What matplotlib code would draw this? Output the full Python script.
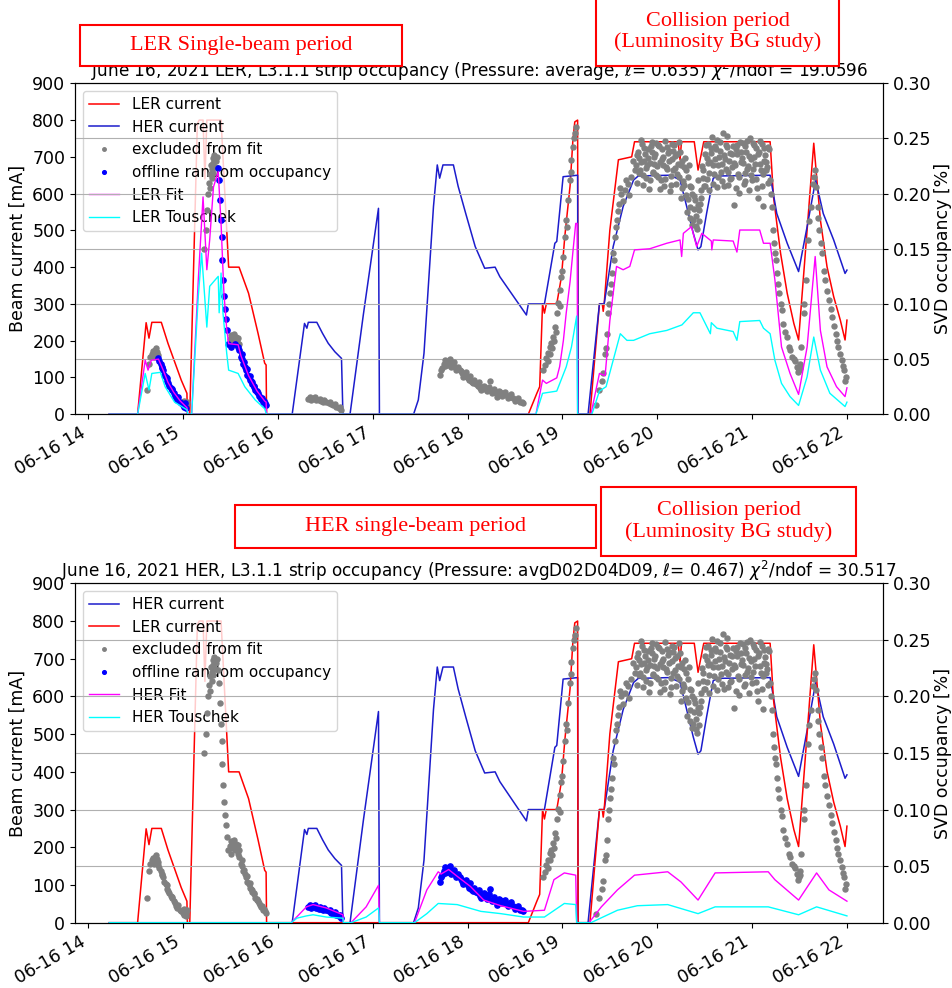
import matplotlib
matplotlib.use("Agg")
import matplotlib.pyplot as plt
import matplotlib.dates as mdates
from matplotlib.patches import Rectangle
import numpy as np
import pandas as pd

plt.rcParams['font.size'] = 12.5

# ---- beam currents [mA], time in hours of 2021-06-16
ler_t = [14.22, 14.52, 14.61, 14.64, 14.67, 14.77, 14.84, 14.91, 14.98, 15.04, 15.045, 15.07, 15.15, 15.17,
         15.21, 15.23, 15.25, 15.40, 15.46, 15.48, 15.59, 15.69, 15.79, 15.86, 15.875, 15.88, 18.64, 18.73,
         18.76, 18.79, 18.81, 18.83, 18.94, 18.99, 19.025, 19.08, 19.11, 19.13, 19.16, 19.165, 19.29, 19.39,
         19.42, 19.43, 19.44, 19.50, 19.59, 19.73, 19.76, 20.22, 20.24, 20.255, 20.39, 20.43, 20.49, 21.19,
         21.225, 21.30, 21.37, 21.44, 21.49, 21.58, 21.65, 21.72, 21.79, 21.86, 21.93, 21.98, 22.0]
ler_ma = [0, 0, 249, 207, 250, 250, 193, 143, 93, 57, 0, 0, 790, 800,
          800, 640, 800, 800, 500, 400, 400, 329, 220, 139, 134, 0, 0, 57,
          75, 300, 275, 300, 300, 375, 484, 620, 745, 795, 800, 0, 0, 300,
          300, 280, 300, 501, 692, 700, 741, 741, 692, 741, 741, 664, 741, 741,
          592, 438, 329, 247, 202, 501, 737, 528, 401, 320, 256, 202, 256]

her_t = [14.22, 16.15, 16.28, 16.305, 16.32, 16.41, 16.47, 16.53, 16.60, 16.67, 16.685, 16.76, 16.90, 17.06,
         17.07, 17.43, 17.48, 17.54, 17.59, 17.64, 17.68, 17.705, 17.74, 17.85, 17.90, 17.98, 18.08, 18.18,
         18.29, 18.34, 18.62, 18.64, 18.81, 18.92, 18.94, 19.007, 19.16, 19.165, 19.27, 19.39, 19.44, 19.535,
         19.64, 19.75, 19.80, 20.13, 20.22, 20.24, 20.31, 20.38, 20.43, 20.46, 20.52, 20.59, 20.65, 21.19,
         21.26, 21.37, 21.49, 21.58, 21.67, 21.75, 21.86, 21.98, 22.0]
her_ma = [0, 0, 247, 234, 250, 250, 220, 193, 170, 152, 0, 0, 270, 560,
          0, 0, 39, 166, 365, 565, 678, 642, 678, 678, 620, 546, 456, 397,
          400, 374, 270, 300, 300, 465, 470, 646, 650, 0, 0, 300, 300, 456,
          565, 637, 648, 650, 640, 637, 565, 492, 447, 456, 546, 642, 648, 650,
          546, 465, 388, 510, 637, 546, 474, 383, 392]

# ---- fits [%]
lerfit_t = [14.22, 14.52, 14.60, 14.63, 14.665, 14.74, 14.79, 14.84, 14.90, 14.97, 15.04, 15.05, 15.09, 15.16,
            15.21, 15.25, 15.28, 15.32, 15.37, 15.40, 15.43, 15.46, 15.48, 15.58, 15.61, 15.69, 15.78, 15.86,
            15.875, 15.88, 18.72, 18.79, 18.83, 18.94, 18.97, 19.01, 19.04, 19.08, 19.11, 19.14, 19.155, 19.16,
            19.30, 19.39, 19.45, 19.50, 19.57, 19.64, 19.71, 19.76, 19.92, 20.10, 20.24, 20.257, 20.275, 20.36,
            20.415, 20.47, 20.57, 20.575, 20.59, 20.80, 20.84, 20.87, 21.08, 21.12, 21.19, 21.24, 21.31, 21.40,
            21.49, 21.58, 21.665, 21.72, 21.79, 21.89, 21.98, 22.0]
lerfit_occ = [0, 0, .049, .040, .049, .050, .040, .029, .020, .012, .006, 0, 0, .122,
              .197, .131, .158, .206, .220, .173, .110, .077, .064, .063, .053, .035, .021, .012,
              .011, 0, 0, .031, .028, .033, .043, .067, .092, .120, .147, .173, .173, 0,
              0, .037, .035, .085, .134, .131, .134, .149, .150, .155, .158, .143, .164, .170,
              .152, .164, .157, .149, .158, .157, .147, .167, .167, .155, .155, .122, .061, .037,
              .018, .061, .143, .076, .043, .025, .016, .024]

lertou_t = [14.22, 14.52, 14.60, 14.64, 14.67, 14.76, 14.81, 14.91, 15.04, 15.05, 15.09, 15.16, 15.195, 15.25,
            15.28, 15.34, 15.37, 15.38, 15.40, 15.42, 15.46, 15.48, 15.58, 15.65, 15.76, 15.86, 15.88, 18.72,
            18.79, 18.94, 19.04, 19.095, 19.15, 19.16, 19.31, 19.39, 19.46, 19.535, 19.61, 19.68, 19.75, 19.92,
            20.10, 20.26, 20.38, 20.45, 20.56, 20.57, 20.63, 20.80, 20.84, 20.87, 21.08, 21.12, 21.19, 21.24,
            21.31, 21.40, 21.49, 21.58, 21.65, 21.72, 21.82, 21.98, 22.0]
lertou_occ = [0, 0, .037, .022, .037, .038, .025, .011, .004, 0, 0, .107, .146, .079,
              .116, .122, .125, .092, .128, .092, .055, .040, .037, .025, .013, .005, 0, 0,
              .019, .021, .043, .061, .089, 0, 0, .021, .025, .049, .073, .067, .067, .073,
              .076, .081, .092, .092, .073, .083, .078, .075, .067, .084, .085, .078, .073, .049,
              .028, .016, .008, .034, .070, .040, .019, .007, .011]

herfit_t = [14.22, 16.14, 16.30, 16.37, 16.51, 16.685, 16.69, 16.77, 16.93, 17.06, 17.07, 17.44, 17.57, 17.69,
            17.72, 17.80, 17.89, 18.03, 18.17, 18.35, 18.59, 18.81, 18.91, 19.02, 19.14, 19.15, 19.28, 19.41,
            19.58, 19.76, 20.11, 20.25, 20.43, 20.61, 21.17, 21.24, 21.49, 21.68, 21.81, 22.0]
herfit_occ = [0, 0, .014, .016, .013, .007, 0, 0, .014, .033, 0, 0, .029, .045,
              .043, .047, .041, .032, .020, .015, .010, .011, .038, .044, .042, 0, 0, .014,
              .029, .042, .045, .036, .020, .044, .045, .038, .020, .044, .029, .019]

hertou_t = [14.22, 16.14, 16.20, 16.30, 16.37, 16.51, 16.685, 16.69, 16.77, 16.93, 17.06, 17.07, 17.44, 17.57,
            17.69, 17.89, 18.14, 18.35, 18.59, 18.81, 19.02, 19.14, 19.15, 19.30, 19.58, 19.79, 20.11, 20.43,
            20.61, 21.17, 21.49, 21.68, 22.0]
hertou_occ = [0, 0, .004, .006, .007, .005, .004, 0, 0, .005, .013, 0, 0, .008,
              .017, .016, .010, .008, .005, .005, .017, .016, 0, 0, .011, .015, .016, .008,
              .014, .014, .007, .014, .006]

# ---- measured occupancy [%]
# LER single-beam decays (fitted in the LER plot)
ler_dec_t = [14.74, 14.765, 14.78, 14.79, 14.815, 14.83, 14.845, 14.87, 14.88, 14.90, 14.93, 14.95, 14.965,
             15.0, 15.02, 15.035, 15.365, 15.38, 15.39, 15.395, 15.405, 15.415, 15.425, 15.435, 15.44, 15.45,
             15.46, 15.475, 15.51, 15.545, 15.58, 15.61, 15.625, 15.635, 15.65, 15.66, 15.675, 15.69, 15.705,
             15.72, 15.73, 15.745, 15.76, 15.775, 15.79, 15.81, 15.825, 15.845, 15.86, 15.87,
             14.75, 14.775, 14.80, 14.825, 14.855, 14.885, 14.91, 14.94, 14.975, 15.01, 15.59, 15.62, 15.645,
             15.67, 15.70, 15.725, 15.75, 15.78, 15.80, 15.83, 15.855]
ler_dec_occ = [.051, .046, .043, .040, .034, .030, .028, .024, .022, .019, .0145, .016, .0115,
               .0085, .010, .0055, .223, .212, .194, .176, .161, .140, .122, .107, .095, .086,
               .076, .064, .061, .064, .061, .052, .050, .046, .043, .040, .036, .034, .031,
               .030, .027, .025, .022, .020, .019, .016, .014, .0115, .010, .0085,
               .048, .042, .036, .033, .026, .023, .017, .013, .0105, .007, .058, .055, .047,
               .041, .035, .029, .026, .021, .017, .015, .012]

# HER single-beam decays (fitted in the HER plot)
her_dec_t = [16.32, 16.35, 16.375, 16.40, 16.43, 16.455, 16.48, 16.51, 16.535, 16.56, 16.585, 16.61, 16.64,
             16.665, 17.71, 17.73, 17.75, 17.765, 17.78, 17.80, 17.82, 17.84, 17.87, 17.89, 17.915, 17.94,
             17.965, 17.99, 18.015, 18.04, 18.06, 18.085, 18.11, 18.13, 18.155, 18.18, 18.21, 18.24, 18.27,
             18.295, 18.32, 18.345, 18.38, 18.41, 18.445, 18.48, 18.515, 18.55, 18.58,
             16.34, 16.39, 16.44, 16.49, 16.55, 16.60, 16.65, 17.72, 17.76, 17.79, 17.81, 17.83, 17.86, 17.88,
             17.90, 17.93, 17.95, 17.98, 18.00, 18.03, 18.05, 18.07, 18.10, 18.12, 18.14, 18.17, 18.20, 18.23,
             18.26, 18.28, 18.31, 18.33, 18.36, 18.39, 18.43, 18.46, 18.50, 18.53, 18.57]
her_dec_occ = [.014, .013, .0145, .013, .0125, .012, .0115, .011, .010, .009, .008, .0065, .0055,
               .004, .036, .042, .046, .044, .047, .048, .046, .045, .043, .041, .040, .037,
               .036, .034, .031, .030, .028, .027, .026, .024, .025, .023, .022, .030, .020,
               .019, .018, .0205, .019, .0175, .016, .0145, .013, .0115, .010,
               .016, .0155, .014, .013, .0115, .0095, .007, .040, .049, .045, .050, .043, .047, .040,
               .043, .039, .034, .038, .033, .035, .029, .031, .027, .029, .022, .026, .021, .025,
               .019, .023, .016, .021, .017, .020, .015, .018, .012, .015, .011]

# never fitted
inj_t = [14.615, 14.64, 14.653, 14.667, 14.685, 14.70, 14.72, 14.737, 14.69, 14.71, 15.01, 15.03, 15.04,
         15.22, 15.24, 15.25, 15.26, 15.27, 15.28, 15.29, 15.30, 15.31, 15.32, 15.33, 15.34, 15.35, 15.28,
         15.30, 15.32, 15.36, 15.49, 15.50, 15.51, 15.52, 15.53, 15.54, 15.55, 15.56, 15.57, 15.58, 15.59,
         18.796, 18.813, 18.83, 18.849, 18.866, 18.884, 18.901, 18.919, 18.944, 18.958, 18.972, 18.989,
         19.007, 19.025, 19.042, 19.06, 19.077, 19.095, 19.113, 19.13, 19.141, 18.85, 18.87, 18.89, 18.91,
         18.93, 18.97, 19.0, 19.05, 19.09, 19.12]
inj_occ = [.022, .046, .052, .055, .057, .058, .056, .054, .052, .060, .012, .009, .011,
           .150, .167, .185, .200, .210, .218, .226, .222, .232, .228, .235, .224, .230, .205,
           .214, .219, .233, .068, .072, .066, .071, .068, .073, .067, .070, .066, .069, .064,
           .040, .0447, .0507, .0553, .0613, .0643, .0704, .0794, .0915, .1006, .1126, .1247,
           .1428, .161, .176, .194, .2123, .2304, .2425, .2546, .2606, .048, .055, .060, .066,
           .075, .098, .130, .170, .220, .250]

coll_rise_t = [19.35, 19.39, 19.42, 19.43, 19.45, 19.465, 19.48, 19.50, 19.52, 19.535, 19.55, 19.57, 19.595,
               19.62, 19.655, 19.69, 19.725, 19.76, 19.46, 19.49, 19.51, 19.54, 19.56, 19.59, 19.61, 19.64,
               19.67, 19.70, 19.74]
coll_rise_occ = [.008, .022, .030, .037, .055, .073, .092, .110, .128, .146, .161, .176, .191,
                 .200, .203, .209, .215, .221, .060, .100, .118, .140, .170, .184, .205, .193,
                 .212, .199, .230]

plat1_t = [19.78, 19.80, 19.82, 19.84, 19.86, 19.88, 19.90, 19.92, 19.94, 19.96,
           19.98, 20.00, 20.02, 20.04, 20.06, 20.08, 20.10, 20.12, 20.14, 20.16,
           20.18, 20.20, 20.22, 20.24, 20.26, 20.28, 20.30, 20.32, 20.34, 20.36,
           20.38, 20.40, 20.42, 20.44, 20.46, 20.48, 20.50, 20.52, 20.54, 20.56,
           20.58, 20.60, 20.62, 20.64, 20.66, 20.68, 20.70, 20.72, 20.74, 20.76,
           20.78, 20.80, 20.82, 20.84, 20.86, 20.88, 20.90, 20.92, 20.94, 20.96,
           20.98, 21.00, 21.02, 21.04, 21.06, 21.08, 21.10, 21.12, 21.14, 21.16, 21.18]
plat1_occ = [.226, .238, .221, .245, .230, .214, .240, .228, .247, .219,
             .236, .225, .243, .212, .233, .248, .222, .239, .216, .231,
             .244, .209, .227, .238, .205, .224, .199, .215, .188, .206,
             .176, .194, .168, .185, .203, .221, .236, .213, .245, .229,
             .251, .218, .240, .226, .247, .211, .235, .222, .252, .230,
             .214, .243, .226, .236, .201, .229, .246, .219, .238, .225,
             .250, .212, .233, .241, .196, .227, .245, .218, .235, .224, .240]
plat2_t = [19.79, 19.81, 19.83, 19.85, 19.87, 19.89, 19.91, 19.93, 19.95, 19.97,
           19.99, 20.01, 20.03, 20.05, 20.07, 20.09, 20.11, 20.13, 20.15, 20.17,
           20.19, 20.21, 20.23, 20.25, 20.27, 20.29, 20.31, 20.33, 20.35, 20.37,
           20.39, 20.41, 20.43, 20.45, 20.47, 20.49, 20.51, 20.53, 20.55, 20.57,
           20.59, 20.61, 20.63, 20.65, 20.67, 20.69, 20.71, 20.73, 20.75, 20.77,
           20.79, 20.81, 20.83, 20.85, 20.87, 20.89, 20.91, 20.93, 20.95, 20.97,
           20.99, 21.01, 21.03, 21.05, 21.07, 21.09, 21.11, 21.13, 21.15, 21.17]
plat2_occ = [.210, .232, .249, .217, .236, .226, .204, .243, .220, .233,
             .246, .215, .229, .240, .207, .224, .237, .202, .245, .221,
             .234, .218, .247, .226, .211, .232, .183, .226, .207, .172,
             .198, .180, .212, .191, .225, .207, .244, .228, .203, .237,
             .226, .243, .206, .233, .220, .255, .231, .242, .208, .237,
             .224, .190, .240, .218, .247, .232, .209, .243, .222, .234,
             .217, .246, .227, .205, .238, .221, .189, .241, .229, .210]
plat3_t = [19.785, 19.805, 19.825, 19.845, 19.865, 19.885, 19.905, 19.925, 19.945, 19.965,
           19.985, 20.005, 20.025, 20.045, 20.065, 20.085, 20.105, 20.125, 20.145, 20.165,
           20.185, 20.205, 20.225, 20.245, 20.265, 20.285, 20.305, 20.325, 20.345, 20.365,
           20.385, 20.405, 20.425, 20.445, 20.465, 20.485, 20.505, 20.525, 20.545, 20.565,
           20.585, 20.605, 20.625, 20.645, 20.665, 20.685, 20.705, 20.725, 20.745, 20.765,
           20.785, 20.805, 20.825, 20.845, 20.865, 20.885, 20.905, 20.925, 20.945, 20.965,
           20.985, 21.005, 21.025, 21.045, 21.065, 21.085, 21.105, 21.125, 21.145, 21.165]
plat3_occ = [.235, .219, .229, .208, .241, .223, .232, .212, .238, .227,
             .217, .244, .204, .231, .226, .213, .242, .230, .208, .239,
             .223, .236, .215, .196, .230, .208, .221, .195, .178, .200,
             .186, .171, .190, .175, .196, .214, .207, .232, .219, .241,
             .209, .231, .249, .215, .239, .227, .207, .244, .220, .213,
             .236, .228, .205, .244, .215, .238, .228, .211, .248, .203,
             .231, .222, .244, .213, .236, .248, .207, .230, .221, .242]

coll_end_t = [21.19, 21.21, 21.225, 21.24, 21.26, 21.28, 21.31, 21.33, 21.37, 21.39, 21.42, 21.45, 21.47,
              21.49, 21.51, 21.52, 21.545, 21.57, 21.59, 21.62, 21.64, 21.66, 21.675, 21.69, 21.71, 21.74,
              21.77, 21.81, 21.84, 21.88, 21.91, 21.95, 21.97, 21.99, 21.20, 21.23, 21.25, 21.27, 21.30,
              21.35, 21.40, 21.44, 21.48, 21.50, 21.55, 21.60, 21.65, 21.70, 21.73, 21.76, 21.79, 21.83,
              21.86, 21.90, 21.93, 21.96, 21.98]
coll_end_occ = [.212, .188, .167, .146, .128, .110, .0945, .082, .070, .061, .052, .048, .043,
                .040, .046, .061, .0915, .122, .158, .188, .209, .221, .206, .188, .167, .146,
                .122, .104, .0885, .073, .061, .049, .040, .034, .200, .155, .140, .118, .100,
                .075, .058, .050, .038, .042, .100, .175, .215, .178, .155, .130, .112, .095,
                .080, .066, .055, .044, .030]

base = pd.Timestamp("2021-06-16")


def hrs(h):
    return base + pd.to_timedelta(np.asarray(h, dtype=float), unit="h")


gray_common_t = inj_t + coll_rise_t + plat1_t + plat2_t + plat3_t + coll_end_t
gray_common_occ = inj_occ + coll_rise_occ + plat1_occ + plat2_occ + plat3_occ + coll_end_occ

fig = plt.figure(figsize=(9.52, 9.88), dpi=100)


def panel(rect, ring, title):
    ax = fig.add_axes(rect)
    if ring == "LER":
        l1, = ax.plot(hrs(ler_t), ler_ma, color="red", lw=1.1, label="LER current")
        l2, = ax.plot(hrs(her_t), her_ma, color="#1c1ccc", lw=1.1, label="HER current")
        gray_t = gray_common_t + her_dec_t
        gray_v = gray_common_occ + her_dec_occ
        blue_t, blue_v = ler_dec_t, ler_dec_occ
        fit_t, fit_v, tou_t, tou_v = lerfit_t, lerfit_occ, lertou_t, lertou_occ
    else:
        l1, = ax.plot(hrs(her_t), her_ma, color="#1c1ccc", lw=1.1, label="HER current")
        l2, = ax.plot(hrs(ler_t), ler_ma, color="red", lw=1.1, label="LER current")
        gray_t = gray_common_t + ler_dec_t
        gray_v = gray_common_occ + ler_dec_occ
        blue_t, blue_v = her_dec_t, her_dec_occ
        fit_t, fit_v, tou_t, tou_v = herfit_t, herfit_occ, hertou_t, hertou_occ
    ax.set_ylim(0, 900)
    ax.set_yticks(range(0, 901, 100))
    ax.set_ylabel("Beam current [mA]")
    ax.set_xlim(hrs([13.86, 22.38]))
    ax.xaxis.set_major_locator(mdates.HourLocator())
    ax.xaxis.set_major_formatter(mdates.DateFormatter("%m-%d %H"))
    plt.setp(ax.get_xticklabels(), rotation=30, ha="right")
    ax.set_title(title, pad=2, fontsize=12.2)

    ax2 = ax.twinx()
    s1, = ax2.plot(hrs(gray_t), gray_v, "o", ms=3.6, color="gray", ls="none", label="excluded from fit")
    s2, = ax2.plot(hrs(blue_t), blue_v, "o", ms=3.8, color="blue", ls="none", label="offline random occupancy")
    f1, = ax2.plot(hrs(fit_t), fit_v, color="magenta", lw=1.0, label=ring + " Fit")
    f2, = ax2.plot(hrs(tou_t), tou_v, color="cyan", lw=1.0, label=ring + " Touschek")
    ax2.set_ylim(0, 0.30)
    ax2.set_yticks(np.arange(0, 0.301, 0.05))
    ax2.yaxis.set_major_formatter(matplotlib.ticker.FormatStrFormatter("%.2f"))
    ax2.set_ylabel("SVD occupancy [%]", labelpad=2)
    ax2.yaxis.grid(True, color="#b0b0b0", lw=0.8)

    handles = [l1, l2, s1, s2, f1, f2]
    ax.legend(handles, [h.get_label() for h in handles], loc="upper left",
              labelspacing=0.5, markerscale=0.7, fontsize=11)
    return ax


panel([0.0788, 0.5807, 0.8487, 0.335], "LER",
      r"June 16, 2021 LER, L3.1.1 strip occupancy (Pressure: average, $\ell$= 0.635) $\chi^2$/ndof = 19.0596")
panel([0.0788, 0.0661, 0.8487, 0.3435], "HER",
      r"June 16, 2021 HER, L3.1.1 strip occupancy (Pressure: avgD02D04D09, $\ell$= 0.467) $\chi^2$/ndof = 30.517")

# annotation boxes (pixel boxes: x0, y0_top, x1, y1_bottom)
W, H = 952.0, 988.0
boxes = [
    ((80, 25, 402, 66), "LER Single-beam period"),
    ((596, -2, 839, 66), "Collision period\n(Luminosity BG study)"),
    ((235, 505, 596, 548), "HER single-beam period"),
    ((601, 487, 856, 556), "Collision period\n(Luminosity BG study)"),
]
for (x0, y0, x1, y1), txt in boxes:
    fig.add_artist(Rectangle((x0 / W, 1 - y1 / H), (x1 - x0) / W, (y1 - y0) / H,
                             transform=fig.transFigure, fc="white", ec="red", lw=1.5))
    fig.text((x0 + x1) / 2 / W, 1 - (y0 + y1) / 2 / H, txt, color="red",
             family="Liberation Serif", fontsize=16, ha="center", va="center",
             linespacing=1.15)

fig.savefig("out.png", dpi=100)
